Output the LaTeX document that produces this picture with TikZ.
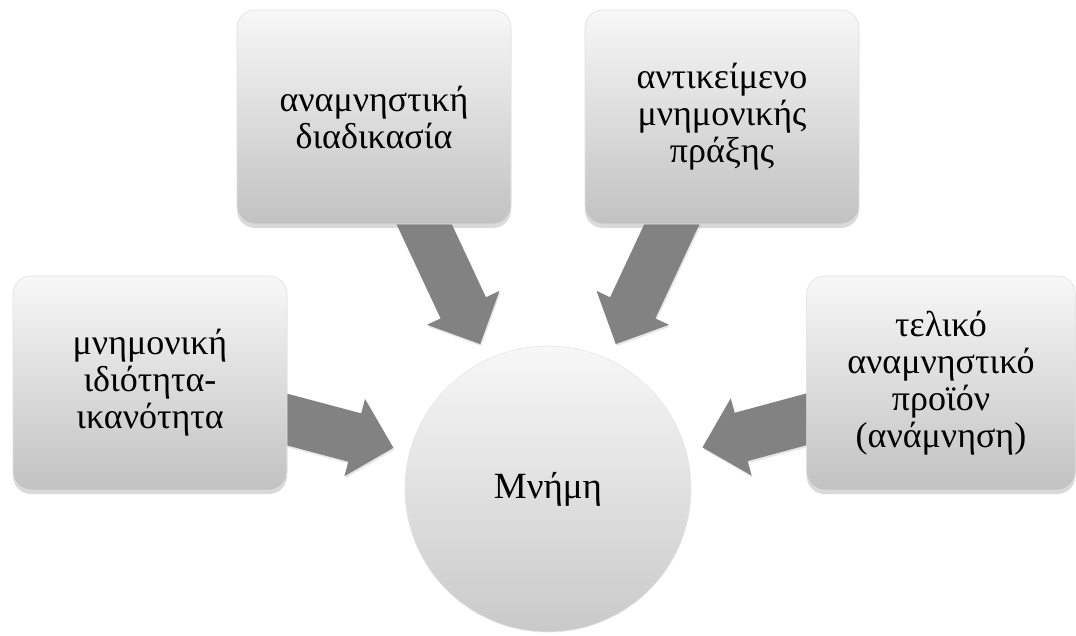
\documentclass[tikz,border=0pt]{standalone}
\usepackage{fontspec}
\setmainfont{Liberation Serif}
\usetikzlibrary{calc,shadows}
\pgfdeclarelayer{background}
\pgfsetlayers{background,main}

\begin{document}
\begin{tikzpicture}[x=1pt, y=-1pt,
        card/.style = {draw=white!88!black, line width=0.6pt, rounded corners=18pt,
            top color=white!97!black, bottom color=white!76!black,
            minimum width=274pt, minimum height=214pt, text width=262pt, align=center,
            font=\fontsize{36}{37}\selectfont,
            drop shadow={shadow xshift=0pt, shadow yshift=-4pt, opacity=0.3}},
        hub/.style = {circle, draw=white!90!black, line width=0.6pt,
            top color=white!97!black, bottom color=white!79!black,
            minimum size=286pt, inner sep=0pt, font=\fontsize{37}{37}\selectfont},
        push/.style = {fill=black!49, draw=none,
            drop shadow={shadow xshift=1pt, shadow yshift=-2pt, opacity=0.2},
            to path={($(\tikztostart)!25pt!90:(\tikztotarget)$)
                -- ($(\tikztotarget)!201.56pt!-7.125:(\tikztostart)$)
                -- ($(\tikztotarget)!204pt!-11.31:(\tikztostart)$)
                -- ($(\tikztotarget)!160pt!(\tikztostart)$)
                -- ($(\tikztotarget)!204pt!11.31:(\tikztostart)$)
                -- ($(\tikztotarget)!201.56pt!7.125:(\tikztostart)$)
                -- ($(\tikztostart)!25pt!-90:(\tikztotarget)$) -- cycle}}]
        \useasboundingbox (0, 0) rectangle (1076, 635);

        \node at (548, 489) [hub] (mem) {Μνήμη};
        \node at (150, 383) [card] (skill) {μνημονική\\ιδιότητα-\\ικανότητα};
        \node at (374, 117) [card] (proc) {αναμνηστική\\διαδικασία};
        \node at (722, 117) [card] (obj) {αντικείμενο\\μνημονικής\\πράξης};
        \node at (941, 383) [card, minimum width=266pt] (prod) {τελικό\\αναμνηστικό\\προϊόν\\(ανάμνηση)};

        \begin{pgfonlayer}{background}
        \path
        (skill) edge[push] (mem)
        (proc) edge[push] (mem)
        (obj) edge[push] (mem)
        (prod) edge[push] (mem);
        \end{pgfonlayer}

    \end{tikzpicture}
\end{document}
